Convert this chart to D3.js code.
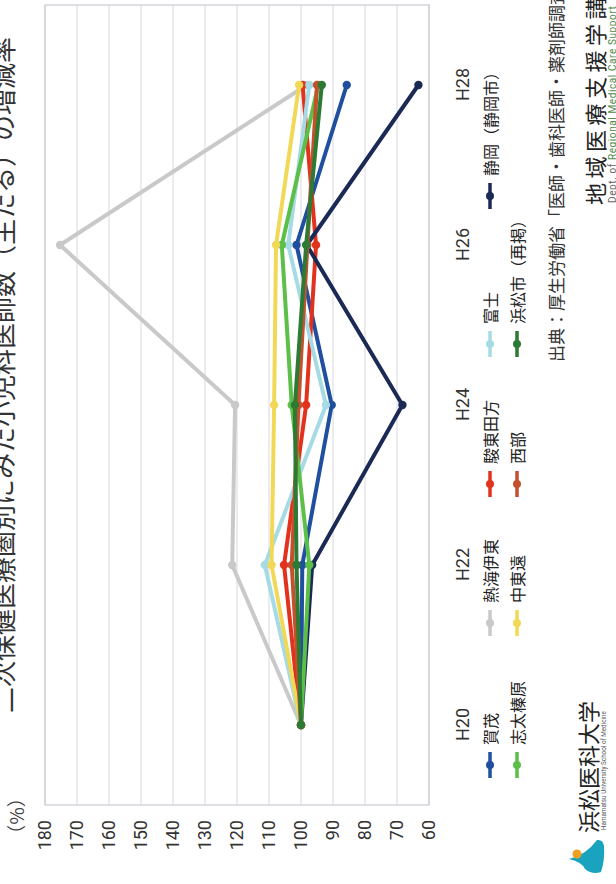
<!DOCTYPE html>
<html><head><meta charset="utf-8">
<script src="https://cdn.jsdelivr.net/npm/d3@7"></script>
<style>
html,body{margin:0;padding:0;background:#fff;}
svg{display:block;}
text{font-family:"Noto Sans CJK JP","Noto Sans",sans-serif;fill:#222;}
</style></head><body>
<svg id="chart" width="616" height="884"></svg>
<script>
// Survey years (Heisei) and rate of change vs H20 (= 100), per secondary medical area
const years = ["H20", "H22", "H24", "H26", "H28"];
const areaNames = ["賀茂", "熱海伊東", "駿東田方", "富士", "静岡（静岡市）",
                   "志太榛原", "中東遠", "西部", "浜松市（再掲）"];
const kamo         = [100,  99.6,  90.4, 101.4,  85.7];
const atamiIto     = [100, 121.5, 120.6, 175.3,  98.2];
const suntoTagata  = [100, 105.3,  98.4,  95.3,  99.5];
const fuji         = [100, 111.3,  92.2, 104.0,  97.4];
const shizuoka     = [100,  96.5,  68.3,  98.2,  63.3];
const shidaHaibara = [100,  97.4, 102.9, 106.0,  94.6];
const chutoen      = [100, 109.2, 108.4, 107.8, 100.6];
const seibu        = [100, 102.9, 100.8,  98.0,  95.0];
const hamamatsu    = [100, 101.4, 101.9,  98.4,  93.5];
const valueTicks = [180, 170, 160, 150, 140, 130, 120, 110, 100, 90, 80, 70, 60];
const areaColors = ["#1f4f9e", "#c9c9c9", "#e2321d", "#a6dbe6", "#1b2a55",
                    "#5bbf48", "#f1d957", "#c4512c", "#2c7a34"];

const seriesValues = [kamo, atamiIto, suntoTagata, fuji, shizuoka,
                      shidaHaibara, chutoen, seibu, hamamatsu];
const series = areaNames.map((name, i) => ({name, values: seriesValues[i], color: areaColors[i]}));

// The sheet is laid out landscape (884 x 616) and turned a quarter counter-clockwise
const W = 884, H = 616;
const svg = d3.select("#chart");
const g = svg.append("g").attr("transform", `translate(0,${W}) rotate(-90)`);

const plot = {left: 79, right: 879, top: 45, bottom: 429};
const x = d3.scalePoint().domain(years).range([plot.left, plot.right]).padding(0.5);
const y = d3.scaleLinear().domain([60, 180]).range([plot.bottom, plot.top]);

// title (runs off the top edge of the page)
g.append("text").attr("x", 171).attr("y", 13)
  .style("font-size", "26px").style("fill", "#333")
  .text("二次保健医療圏別にみた小児科医師数（主たる）の増減率");

// unit
g.append("text").attr("x", 68).attr("y", 15).attr("text-anchor", "middle")
  .attr("dominant-baseline", "central").style("font-size", "19px").style("fill", "#444")
  .text("（%）");

// grid
g.append("g").selectAll("line").data(valueTicks).join("line")
  .attr("x1", plot.left).attr("x2", plot.right)
  .attr("y1", d => y(d)).attr("y2", d => y(d))
  .attr("stroke", "#d9d9de").attr("stroke-width", 1);
g.append("rect").attr("x", plot.left).attr("y", plot.top)
  .attr("width", plot.right - plot.left).attr("height", plot.bottom - plot.top)
  .attr("fill", "none").attr("stroke", "#c9cbd2").attr("stroke-width", 1.2);

// axes
const yAxis = g.append("g").attr("transform", `translate(${plot.left},0)`)
  .call(d3.axisLeft(y).tickValues(valueTicks).tickSize(0).tickPadding(15).tickFormat(d3.format("d")));
yAxis.select(".domain").remove();
yAxis.selectAll("text").style("font-size", "18px").style("font-family", "Roboto, 'Noto Sans', sans-serif").style("fill", "#333");

const xAxis = g.append("g").attr("transform", `translate(0,${plot.bottom})`)
  .call(d3.axisBottom(x).tickSize(0).tickPadding(27));
xAxis.select(".domain").remove();
xAxis.selectAll("text").style("font-size", "18px").style("font-family", "Roboto, 'Noto Sans', sans-serif").style("fill", "#333");

// lines and markers
const line = d3.line().x((d, i) => x(years[i])).y(d => y(d));
const lines = g.append("g");
series.forEach(s => {
  const sg = lines.append("g");
  sg.append("path").attr("d", line(s.values)).attr("fill", "none")
    .attr("stroke", s.color).attr("stroke-width", 4).attr("stroke-linejoin", "round");
  sg.selectAll("circle").data(s.values).join("circle")
    .attr("cx", (d, i) => x(years[i])).attr("cy", d => y(d)).attr("r", 4.2)
    .attr("fill", s.color);
});

// legend
const legendCols = [119, 261, 400, 540, 688];
const legendRows = [490, 517];
series.forEach((s, i) => {
  const row = i < 5 ? 0 : 1;
  const col = i < 5 ? i : i - 5;
  const lx = legendCols[col], ly = legendRows[row];
  const lg = g.append("g");
  lg.append("line").attr("x1", lx - 13).attr("x2", lx + 13).attr("y1", ly).attr("y2", ly)
    .attr("stroke", s.color).attr("stroke-width", 3.5);
  lg.append("circle").attr("cx", lx).attr("cy", ly).attr("r", 4).attr("fill", s.color);
  lg.append("text").attr("x", lx + 20).attr("y", ly).attr("dominant-baseline", "central")
    .style("font-size", "16px").text(s.name);
});

// source
g.append("text").attr("x", 522).attr("y", 555).attr("dominant-baseline", "central")
  .style("font-size", "17px").style("fill", "#333")
  .text("出典：厚生労働省「医師・歯科医師・薬剤師調査」");

// department
g.append("text").attr("x", 679).attr("y", 594).attr("dominant-baseline", "central")
  .style("font-size", "22px").style("letter-spacing", "4.5px").style("fill", "#222")
  .text("地域医療支援学講座");
const dept = g.append("text").attr("x", 681).attr("y", 612).attr("dominant-baseline", "central")
  .style("font-size", "10px").style("font-family", "Roboto, sans-serif").style("letter-spacing", "0.6px");
dept.append("tspan").style("fill", "#666").text("Dept. of ");
dept.append("tspan").style("fill", "#4f8a46").text("Regional Medical Care Support");

// university mark
g.append("path")
  .attr("d", "M25,569 Q29,586 44,597 Q45,603 38,604 Q24,605 12,601 Q9,592 15,585 Q22,582 25,569 Z")
  .attr("fill", "#1aa3bf");
g.append("circle").attr("cx", 30).attr("cy", 577).attr("r", 4.5).attr("fill", "#f0a020");
g.append("text").attr("x", 51).attr("y", 587).attr("dominant-baseline", "central")
  .style("font-size", "22px").style("fill", "#222").text("浜松医科大学");
g.append("text").attr("x", 54).attr("y", 604).attr("dominant-baseline", "central")
  .style("font-size", "6.3px").style("font-family", "Roboto, sans-serif").style("fill", "#555")
  .text("Hamamatsu University School of Medicine");
</script>
</body></html>
